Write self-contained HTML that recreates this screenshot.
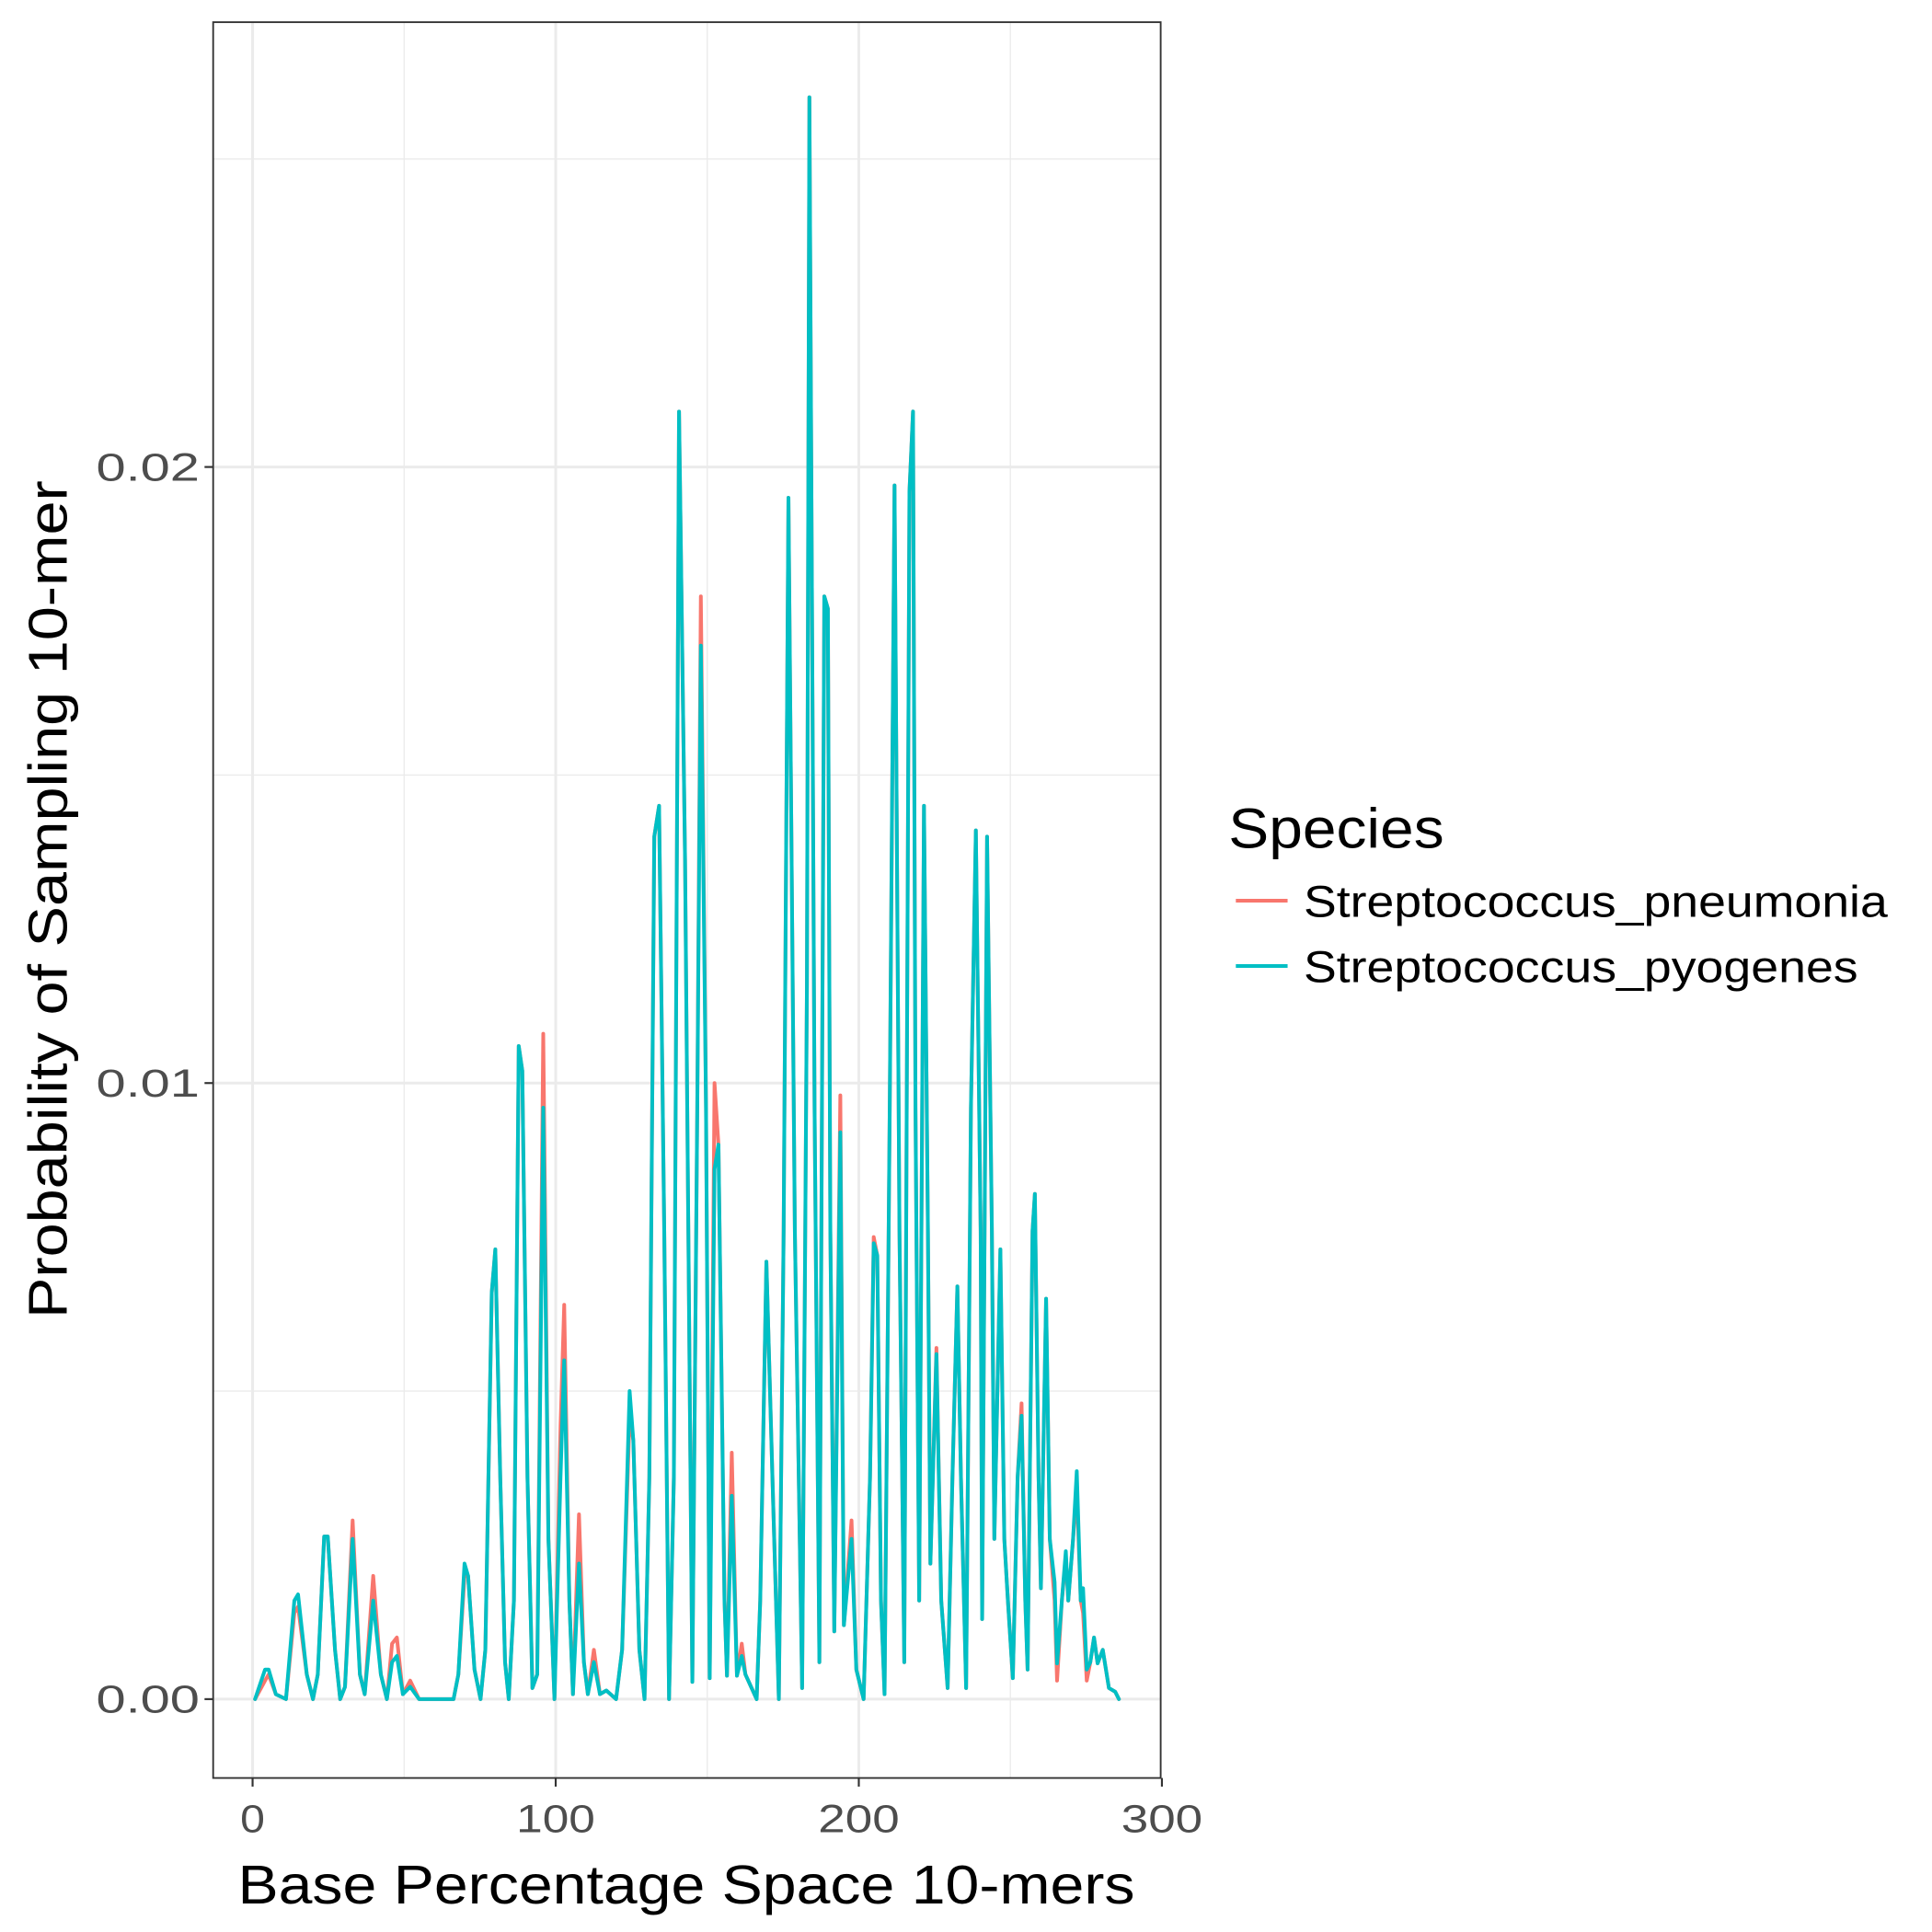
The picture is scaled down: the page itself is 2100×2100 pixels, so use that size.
<!DOCTYPE html>
<html><head><meta charset="utf-8"><style>
html,body{margin:0;padding:0;background:#fff}
svg{display:block}
text{font-family:"Liberation Sans",Arial,sans-serif}
</style></head><body>
<svg id="chart" width="2100" height="2100" viewBox="0 0 1568 1568" xmlns="http://www.w3.org/2000/svg">
<rect x="0" y="0" width="1568" height="1568" fill="#fff"/>
<g id="grid"></g>
<g id="series"></g>
<rect x="173" y="18" width="769" height="1425" fill="none" stroke="#333" stroke-width="1.4"/>
<g id="axes"></g>
<text x="557" y="1545" font-size="44" text-anchor="middle" textLength="728" lengthAdjust="spacingAndGlyphs">Base Percentage Space 10-mers</text>
<text transform="translate(54,730) rotate(-90)" font-size="44" text-anchor="middle" textLength="680" lengthAdjust="spacingAndGlyphs">Probability of Sampling 10-mer</text>
<g>
<text x="997" y="688" font-size="46" textLength="175" lengthAdjust="spacingAndGlyphs">Species</text>
<line x1="1003" y1="731" x2="1045" y2="731" stroke="#F8766D" stroke-width="3"/>
<text x="1058" y="744" font-size="36" textLength="474" lengthAdjust="spacingAndGlyphs">Streptococcus_pneumonia</text>
<line x1="1003" y1="784" x2="1045" y2="784" stroke="#00BFC4" stroke-width="3"/>
<text x="1058" y="797" font-size="36" textLength="450" lengthAdjust="spacingAndGlyphs">Streptococcus_pyogenes</text>
</g>
</svg>
<script>
const xValues=[0.8,4.1,5.3,7.7,11,13.8,15,17.9,19.9,21.5,23.6,24.8,27.2,28.9,30.5,33,35.4,37,39.8,42.3,44.3,46,47.6,49.6,52,54.9,66.3,67.9,69.9,71.1,73.2,75.2,76.8,78.9,80.1,81.7,83.3,84.5,86.2,87.8,89,90.7,92.3,93.9,95.9,97.6,99.6,101.6,102.8,104.5,105.7,107.7,109.3,110.6,112.6,114.6,116.7,119.9,121.9,124.4,125.6,127.6,129.3,130.9,132.5,134.1,135.8,137.4,139,140.7,142.7,145.1,146.7,147.9,149.6,150.8,152.4,153.7,155.7,156.5,158.1,159.8,161.4,162.6,166.3,167.5,169.5,171.5,173.6,175.2,176.8,178.9,181.3,182.9,183.7,185.4,187,188.6,189.8,190.6,191.9,193.9,195.1,197.6,199.2,201.6,203.7,204.9,206.1,207.3,208.5,210.2,211.8,213.4,215,216.7,217.9,218.7,219.9,221.5,222.8,223.6,225.6,227.2,229.3,230.9,232.5,233.7,235.4,237,238.6,240.2,240.7,242.3,243.9,244.7,246.7,248,249.2,250.8,252.4,253.7,254.9,255.7,257.3,258.1,259.3,260.1,261.8,263,264.6,265.4,267,268.3,269.1,270.7,271.9,273.2,274,275.2,276.4,277.6,278.8,280.5,282.5,284.6,285.8];
const pyogenes=[0,.00048,.00048,.00008,0,.0016,.0017,.0004,0,.0004,.00264,.00264,.0008,0,.0002,.0026,.0004,.00008,.0016,.0004,0,.0006,.0007,.00008,.0002,0,0,.0004,.0022,.002,.00048,0,.0008,.0066,.0073,.0036,.0006,0,.0016,.0106,.0102,.0036,.00018,.0004,.0096,.0026,0,.0036,.0055,.0016,.00008,.0022,.0006,.00008,.0006,.00008,.00014,0,.0008,.005,.0042,.0008,0,.0036,.014,.0145,.0076,0,.0036,.0209,.0136,.00028,.0096,.0171,.0096,.00034,.0086,.009,.0016,.00038,.0033,.00038,.0007,.0004,0,.0016,.0071,.0036,0,.0076,.0195,.0076,.00018,.0116,.026,.0096,.0006,.0179,.0177,.0076,.0011,.0092,.0012,.0026,.00048,0,.0036,.0074,.0072,.0016,.00008,.0096,.0197,.0076,.0006,.0196,.0209,.0096,.0016,.0145,.0076,.0022,.0056,.0016,.00018,.0036,.0067,.0036,.00018,.0096,.0141,.0076,.0013,.014,.0076,.0026,.0073,.0026,.0016,.00034,.0036,.0046,.0016,.00048,.0076,.0082,.0036,.0018,.0065,.0026,.0019,.00058,.0016,.0024,.0016,.0026,.0037,.0016,.0018,.00048,.0006,.001,.00058,.0008,.00018,.00012,0];
const pneumonia=[0,.0003,.0004,.00008,0,.0014,.0015,.0004,0,.0004,.00264,.00264,.0008,0,.0002,.0029,.0004,.00008,.002,.0004,0,.0009,.001,.00008,.0003,0,0,.0004,.002,.002,.00048,0,.0008,.0066,.0073,.0036,.0006,0,.0016,.0106,.0102,.0036,.00018,.0004,.0108,.0026,0,.0044,.0064,.0016,.00008,.003,.0006,.00008,.0008,.00008,.00014,0,.0008,.0046,.0042,.0008,0,.0036,.014,.0145,.0076,0,.0036,.0209,.0136,.00028,.0096,.0179,.0096,.00034,.01,.009,.0016,.00038,.004,.00038,.0009,.0004,0,.0016,.0071,.0036,0,.0076,.0195,.0076,.00018,.0116,.026,.0096,.0006,.0179,.0177,.0076,.0011,.0098,.0012,.0029,.00048,0,.0036,.0075,.0072,.0016,.00008,.0096,.0197,.0076,.0006,.0196,.0209,.0096,.0016,.0145,.0076,.0022,.0057,.0016,.00018,.0036,.0067,.0036,.00018,.0096,.0141,.0076,.0013,.014,.0076,.0026,.0073,.0026,.0016,.00034,.0036,.0048,.0016,.00048,.0076,.0082,.0036,.0018,.0065,.0026,.0016,.0003,.0016,.0023,.0016,.0026,.0034,.0016,.0014,.0003,.0006,.001,.00058,.0008,.00018,.00012,0];
const xTicks=[0,100,200,300];
const xTickLabels=["0","100","200","300"];
const xMinor=[50,150,250];
const yTicks=[0,0.01,0.02];
const yTickLabels=["0.00","0.01","0.02"];
const yMinor=[0.005,0.015,0.025];

const NS="http://www.w3.org/2000/svg";
function sx(v){return 205+v*2.46;}
function sy(v){return 1379-v*50000;}
function mk(tag,attrs,parent){const e=document.createElementNS(NS,tag);for(const k in attrs)e.setAttribute(k,attrs[k]);parent.appendChild(e);return e;}
const grid=document.getElementById('grid'),axes=document.getElementById('axes'),series=document.getElementById('series');
yMinor.forEach(v=>{const l=mk('line',{x1:173,x2:942,y1:sy(v),y2:sy(v),stroke:'#ebebeb','stroke-width':1},grid);

});
xMinor.forEach(v=>{const l=mk('line',{x1:sx(v),x2:sx(v),y1:18,y2:1443,stroke:'#ebebeb','stroke-width':1},grid);

});
yTicks.forEach((v,i)=>{const l=mk('line',{x1:173,x2:942,y1:sy(v),y2:sy(v),stroke:'#ebebeb','stroke-width':2.2},grid);


const t=mk('line',{x1:166,x2:173,y1:sy(v),y2:sy(v),stroke:'#333','stroke-width':1.6},axes);


const tx=mk('text',{x:162,y:sy(v)+11,'font-size':32,'text-anchor':'end',fill:'#4d4d4d',textLength:84,lengthAdjust:'spacingAndGlyphs'},axes);
tx.textContent=yTickLabels[i];

});
xTicks.forEach((v,i)=>{if(v<300){const l=mk('line',{x1:sx(v),x2:sx(v),y1:18,y2:1443,stroke:'#ebebeb','stroke-width':2.2},grid);

}
const t=mk('line',{x1:sx(v),x2:sx(v),y1:1443,y2:1450,stroke:'#333','stroke-width':1.6},axes);


const w=[20,64,66,66][i];
const tx=mk('text',{x:sx(v),y:1487,'font-size':32,'text-anchor':'middle',fill:'#4d4d4d',textLength:w,lengthAdjust:'spacingAndGlyphs'},axes);
tx.textContent=xTickLabels[i];

});
function drawLine(vals,color,name){const d=xValues.map((x,i)=>(i?'L':'M')+sx(x).toFixed(1)+','+sy(vals[i]).toFixed(1)).join('');
const p=mk('path',{d:d,fill:'none',stroke:color,'stroke-width':3,'stroke-linejoin':'round','stroke-linecap':'round'},series);

}
drawLine(pneumonia,'#F8766D','pneumonia-line');
drawLine(pyogenes,'#00BFC4','pyogenes-line');
</script>
</body></html>
